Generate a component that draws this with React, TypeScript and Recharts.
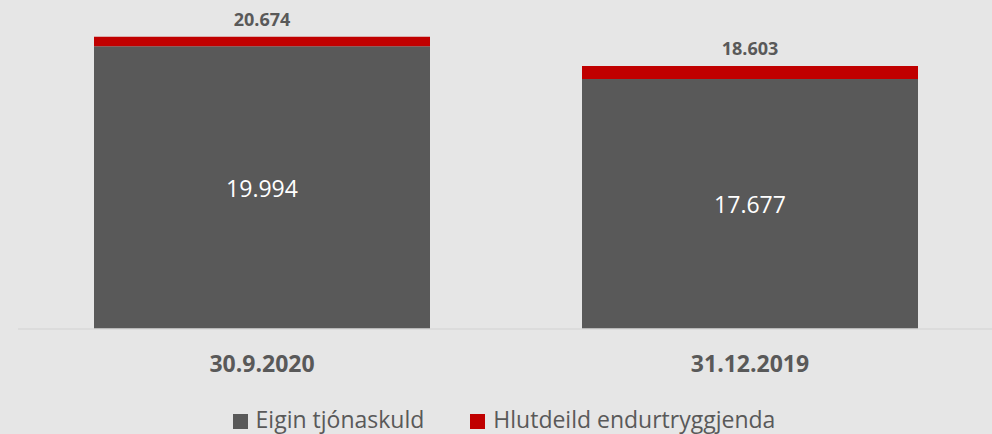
import React from 'react';
import { BarChart, Bar, XAxis, YAxis, Legend, LabelList } from 'recharts';

const categories = ['30.9.2020', '31.12.2019'];
const eiginTjonaskuld = [19994, 17677];
const hlutdeildEndurtryggjenda = [680, 926];
const totals = [20674, 18603];
const seriesNames = ['Eigin tjónaskuld', 'Hlutdeild endurtryggjenda'];

const data = categories.map((c, i) => ({
  name: c,
  own: eiginTjonaskuld[i],
  reins: hlutdeildEndurtryggjenda[i],
  total: totals[i],
}));

const GRAY = '#595959';
const RED = '#c00000';
const BG = '#e6e6e6';
const FONT = '"Open Sans", sans-serif';

const fmt = (n: number) => String(n).replace(/\B(?=(\d{3})+(?!\d))/g, '.');

const CategoryTick = (props: any) => {
  const { x, y, payload } = props;
  return (
    <text x={x} y={y + 43} textAnchor="middle" fill={GRAY} fontFamily={FONT} fontSize={23} fontWeight={700}>
      {payload.value}
    </text>
  );
};

const TotalLabel = (props: any) => {
  const { x, y, width, index } = props;
  return (
    <text x={x + width / 2} y={y - 11} textAnchor="middle" fill={GRAY} fontFamily={FONT} fontSize={18} fontWeight={700}>
      {fmt(totals[index])}
    </text>
  );
};

const InsideLabel = (props: any) => {
  const { x, y, width, height, value } = props;
  return (
    <text x={x + width / 2} y={y + height / 2 + 9} textAnchor="middle" fill="#ffffff" fontFamily={FONT} fontSize={23}>
      {fmt(value)}
    </text>
  );
};

const LegendContent = (props: any) => {
  const items = [
    { label: seriesNames[0], color: GRAY },
    { label: seriesNames[1], color: RED },
  ];
  return (
    <div style={{ display: 'flex', justifyContent: 'center', height: 30, lineHeight: '30px', fontFamily: FONT, fontSize: 23, color: GRAY, paddingLeft: 16 }}>
      {items.map((it, i) => (
        <div key={i} style={{ display: 'flex', alignItems: 'center', marginLeft: i === 0 ? 0 : 46 }}>
          <span style={{ display: 'inline-block', width: 15, height: 15, background: it.color, marginRight: 8, marginTop: 4 }} />
          <span>{it.label}</span>
        </div>
      ))}
    </div>
  );
};

export default function App() {
  return (
    <div style={{ position: 'absolute', left: 0, top: 0, width: 992, height: 434, background: BG }}>
      <BarChart
        width={992}
        height={434}
        data={data}
        margin={{ top: 18, right: -2, left: 18, bottom: 15 }}
        barCategoryGap={76}
      >
        <XAxis
          dataKey="name"
          height={60}
          tickLine={false}
          tickSize={0}
          tickMargin={0}
          axisLine={{ stroke: '#d9d9d9', strokeWidth: 1.5 }}
          tick={<CategoryTick />}
          interval={0}
        />
        <YAxis hide domain={[0, 22000]} />
        <Legend verticalAlign="bottom" wrapperStyle={{ bottom: 0, left: 0, width: 992 }} content={<LegendContent />} />
        <Bar dataKey="own" stackId="a" fill={GRAY} barSize={336} isAnimationActive={false} name={seriesNames[0]}>
          <LabelList dataKey="own" content={<InsideLabel />} />
        </Bar>
        <Bar dataKey="reins" stackId="a" fill={RED} barSize={336} isAnimationActive={false} name={seriesNames[1]}>
          <LabelList dataKey="reins" content={<TotalLabel />} />
        </Bar>
      </BarChart>
    </div>
  );
}
